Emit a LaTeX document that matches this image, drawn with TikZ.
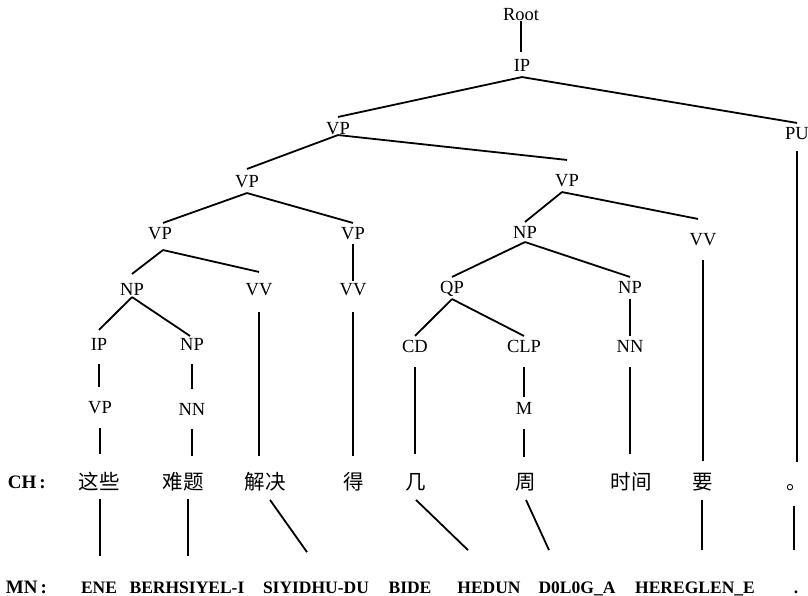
\documentclass[tikz,border=0pt]{standalone}
\usepackage{fontspec}
\setmainfont{Liberation Serif}
\newfontfamily\cjk{Noto Sans CJK SC}
\begin{document}
\begin{tikzpicture}[x=1pt,y=1pt,
  every path/.style={line width=1.8pt},
  tag/.style={font=\fontsize{18.5}{21}\selectfont, inner sep=0pt, text height=12.3pt, text depth=0pt},
  hanzi/.style={font=\cjk\fontsize{20.5}{24}\selectfont, inner sep=0pt, text height=16.8pt, text depth=1.2pt},
  mword/.style={font=\bfseries\fontsize{17.5}{20}\selectfont, inner sep=0pt, text height=12pt, text depth=0pt},
  rowlab/.style={font=\bfseries\fontsize{19}{22}\selectfont, inner sep=0pt, text height=12.6pt, text depth=0pt, anchor=west}]
\useasboundingbox (0,0) rectangle (808,-596);

% parse tree labels
\node[tag] (root) at (521,-14) {Root};
\node[tag] (ip)   at (522,-65) {IP};
\node[tag] (vp1)  at (338,-128) {VP};
\node[tag] (pu)   at (797,-133) {PU};
\node[tag] (vp2)  at (247,-181) {VP};
\node[tag] (vp3)  at (567,-180) {VP};
\node[tag] (vp4)  at (160,-233) {VP};
\node[tag] (vp5)  at (353,-233) {VP};
\node[tag] (np1)  at (525,-232) {NP};
\node[tag] (vv1)  at (703,-239) {VV};
\node[tag] (np2)  at (132,-289) {NP};
\node[tag] (vv2)  at (259,-289) {VV};
\node[tag] (vv3)  at (353,-289) {VV};
\node[tag] (qp)   at (452,-287) {QP};
\node[tag] (np3)  at (630,-287) {NP};
\node[tag] (ip2)  at (99,-344) {IP};
\node[tag] (np4)  at (192,-344) {NP};
\node[tag] (cd)   at (415,-346) {CD};
\node[tag] (clp)  at (524,-346) {CLP};
\node[tag] (nn1)  at (630,-346) {NN};
\node[tag] (vp6)  at (100,-407) {VP};
\node[tag] (nn2)  at (192,-409) {NN};
\node[tag] (m)    at (524,-408) {M};

% Chinese words
\node[rowlab] (chlab) at (7,-482) {CH\kern3pt:};
\node[hanzi] (c1) at (99,-482) {这些};
\node[hanzi] (c2) at (183,-482) {难题};
\node[hanzi] (c3) at (265,-482) {解决};
\node[hanzi] (c4) at (354,-482) {得};
\node[hanzi] (c5) at (416,-482) {几};
\node[hanzi] (c6) at (526,-482) {周};
\node[hanzi] (c7) at (631,-482) {时间};
\node[hanzi] (c8) at (703,-482) {要};
\node[hanzi] (c9) at (797,-482) {。};

% Mongolian words
\node[rowlab] (mnlab) at (5,-587) {MN\kern3pt:};
\node[mword] (m1) at (99,-587) {ENE};
\node[mword] (m2) at (187,-587) {BERHSIYEL-I};
\node[mword] (m3) at (316,-587) {SIYIDHU-DU};
\node[mword] (m4) at (410,-587) {BIDE};
\node[mword] (m5) at (489,-587) {HEDUN};
\node[mword] (m6) at (577,-587) {D0L0G\_A};
\node[mword] (m7) at (695,-587) {HEREGLEN\_E};
\node[mword] (m8) at (796,-587) {.};

% branching edges
\draw ([yshift=-5pt]ip.south) -- ([yshift=4pt]vp1.north);
\draw ([yshift=-5pt]ip.south) -- ([yshift=3pt]pu.north);
\draw (vp1.south) -- ([yshift=5pt]vp2.north);
\draw (vp1.south) -- ([yshift=13pt]vp3.north);
\draw ([yshift=-5pt]vp2.south) -- ([xshift=3pt,yshift=3pt]vp4.north);
\draw ([yshift=-5pt]vp2.south) -- ([yshift=3pt]vp5.north);
\draw ([xshift=-5pt,yshift=-5pt]vp3.south) -- ([yshift=3pt]np1.north);
\draw ([xshift=-5pt,yshift=-5pt]vp3.south) -- ([xshift=-5pt,yshift=13pt]vv1.north);
\draw ([xshift=3pt,yshift=-10pt]vp4.south) -- ([yshift=8pt]np2.north);
\draw ([xshift=3pt,yshift=-10pt]vp4.south) -- ([yshift=10pt]vv2.north);
\draw ([yshift=-3pt]np1.south) -- ([yshift=3pt]qp.north);
\draw ([yshift=-3pt]np1.south) -- ([yshift=3pt]np3.north);
\draw ([yshift=-1pt]np2.south) -- ([yshift=7pt]ip2.north);
\draw ([yshift=-1pt]np2.south) -- ([xshift=-2pt,yshift=1pt]np4.north);
\draw ([yshift=-5pt]qp.south) -- ([yshift=3pt]cd.north);
\draw ([yshift=-5pt]qp.south) -- ([yshift=3pt]clp.north);

% unary edges
\draw[shorten >=6pt] (root.south) -- (root.south |- ip.north);
\draw[shorten <=4pt, shorten >=1pt] (vp5.south) -- (vp5.south |- vv3.north);
\draw[shorten <=5pt, shorten >=3pt] (np3.south) -- (np3.south |- nn1.north);
\draw[shorten <=13pt, shorten >=13pt] (ip2.south) -- (ip2.south |- vp6.north);
\draw[shorten <=13pt, shorten >=13pt] (np4.south) -- (np4.south |- nn2.north);
\draw[shorten <=14pt, shorten >=4pt] (clp.south) -- (clp.south |- m.north);

% preterminals to Chinese words
\draw[shorten <=11pt, shorten >=10pt] (pu.south) -- (pu.south |- c9.north);
\draw[shorten <=14pt, shorten >=11pt] (vv1.south) -- (vv1.south |- c8.north);
\draw[shorten <=16pt, shorten >=16pt] (vv2.south) -- (vv2.south |- c3.north);
\draw[shorten <=16pt, shorten >=16pt] (vv3.south) -- (vv3.south |- c4.north);
\draw[shorten <=14pt, shorten >=18pt] (cd.south) -- (cd.south |- c5.north);
\draw[shorten <=14pt, shorten >=18pt] (nn1.south) -- (nn1.south |- c7.north);
\draw[shorten <=14pt, shorten >=18pt] (vp6.south) -- (vp6.south |- c1.north);
\draw[shorten <=13pt, shorten >=16pt] (nn2.south) -- (nn2.south |- c2.north);
\draw[shorten <=14pt, shorten >=15pt] (m.south) -- (m.south |- c6.north);

% word alignment between Chinese and Mongolian
\draw ([xshift=1pt,yshift=-7pt]c1.south) -- ([xshift=1pt,yshift=24pt]m1.north);
\draw ([xshift=5pt,yshift=-7pt]c2.south) -- ([xshift=1pt,yshift=24pt]m2.north);
\draw ([xshift=5pt,yshift=-8pt]c3.south) -- ([xshift=-9pt,yshift=28pt]m3.north);
\draw ([yshift=-8pt]c5.south) -- ([xshift=-21pt,yshift=30pt]m5.north);
\draw ([yshift=-8pt]c6.south) -- ([xshift=-28pt,yshift=30pt]m6.north);
\draw ([xshift=-1pt,yshift=-8pt]c8.south) -- ([xshift=7pt,yshift=30pt]m7.north);
\draw ([xshift=-3pt,yshift=-14pt]c9.south) -- ([xshift=-2pt,yshift=30pt]m8.north);
\end{tikzpicture}
\end{document}
